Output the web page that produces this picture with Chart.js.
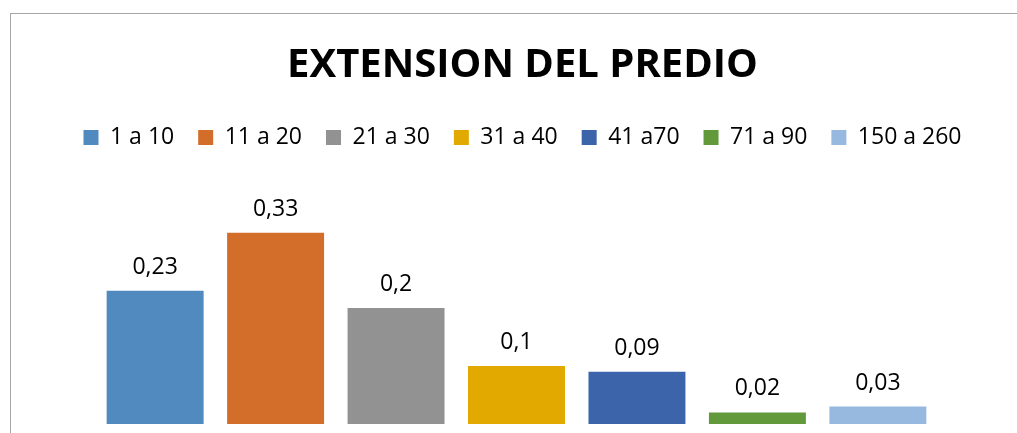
<!DOCTYPE html>
<html>
<head>
<meta charset="utf-8">
<script src="https://cdn.jsdelivr.net/npm/chart.js@4"></script>
<style>
    html, body { margin: 0; padding: 0; background: #fff; overflow: hidden; }
    #marco {
        position: absolute; left: 10px; top: 13px;
        width: 1023px; height: 440px;
        border-left: 1px solid #a6a6a6; border-top: 1px solid #a6a6a6;
    }
</style>
</head>
<body>
<div id="marco"><canvas id="graficoPredio"></canvas></div>
<script>
// Datos del gráfico
const rangos = ['1 a 10', '11 a 20', '21 a 30', '31 a 40', '41 a70', '71 a 90', '150 a 260'];
const valores = [0.23, 0.33, 0.2, 0.1, 0.09, 0.02, 0.03];
const colores = ['#508abe', '#d26e2a', '#929292', '#e2aa00', '#3c64aa', '#62993b', '#97b9e0'];

const fuente = "'Open Sans', 'DejaVu Sans', sans-serif";

// Etiquetas encima de cada barra (con coma decimal)
const etiquetasBarras = {
    id: 'etiquetasBarras',
    afterDatasetsDraw(chart) {
        const ctx = chart.ctx;
        ctx.save();
        ctx.font = `23px ${fuente}`;
        ctx.fillStyle = '#000';
        ctx.textAlign = 'center';
        ctx.textBaseline = 'alphabetic';
        chart.data.datasets.forEach((ds, i) => {
            const barra = chart.getDatasetMeta(i).data[0];
            if (!barra) return;
            const texto = String(ds.data[0]).replace('.', ',');
            ctx.fillText(texto, barra.x, barra.y - 17);
        });
        ctx.restore();
    }
};

const ctx = document.getElementById('graficoPredio').getContext('2d');
new Chart(ctx, {
    type: 'bar',
    data: {
        labels: [''],
        datasets: rangos.map((r, i) => ({
            label: r,
            data: [valores[i]],
            backgroundColor: colores[i]
        }))
    },
    options: {
        responsive: true,
        maintainAspectRatio: false,
        animation: false,
        layout: { padding: { left: 0, right: 0, top: 0, bottom: 30 } },
        datasets: { bar: { categoryPercentage: 0.834, barPercentage: 0.805 } },
        scales: {
            x: { display: false },
            y: {
                position: 'right',
                min: 0,
                max: 0.457,
                ticks: { display: false },
                grid: { display: false },
                border: { display: false },
                afterFit(scale) { scale.width = 12; }
            }
        },
        plugins: {
            title: {
                display: true,
                text: 'EXTENSION DEL PREDIO',
                color: '#000',
                font: { family: fuente, size: 40, weight: 'bold' },
                padding: { top: 28, bottom: 12 }
            },
            legend: {
                position: 'top',
                labels: {
                    color: '#000',
                    font: { family: fuente, size: 23 },
                    boxWidth: 15,
                    boxHeight: 15,
                    padding: 24
                }
            },
            tooltip: { enabled: false }
        }
    },
    plugins: [etiquetasBarras]
});
</script>
</body>
</html>
